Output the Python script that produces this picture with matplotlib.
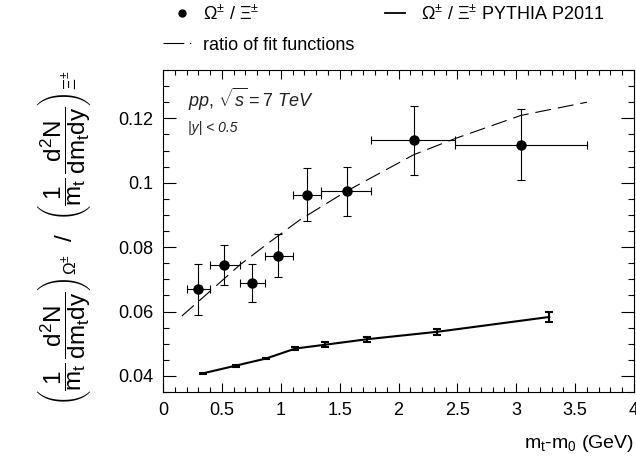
import matplotlib
matplotlib.use("Agg")
import matplotlib.pyplot as plt
from matplotlib.lines import Line2D

plt.rcParams['font.family'] = ['Liberation Sans', 'DejaVu Sans']
plt.rcParams['mathtext.fontset'] = 'custom'
plt.rcParams['mathtext.rm'] = 'Liberation Sans'
plt.rcParams['mathtext.it'] = 'Liberation Sans:italic'
plt.rcParams['mathtext.bf'] = 'Liberation Sans:bold'
plt.rcParams['mathtext.sf'] = 'Liberation Sans'
plt.rcParams['mathtext.default'] = 'regular'

# measured Omega/Xi ratio
x_data = [0.30, 0.52, 0.76, 0.98, 1.22, 1.56, 2.13, 3.04]
x_lo = [0.20, 0.40, 0.65, 0.87, 1.10, 1.34, 1.77, 2.48]
x_hi = [0.40, 0.65, 0.87, 1.10, 1.34, 1.77, 2.48, 3.60]
y_data = [0.0669, 0.0744, 0.0689, 0.0773, 0.0963, 0.0974, 0.1132, 0.1118]
y_err = [0.0079, 0.0063, 0.0058, 0.0067, 0.0082, 0.0076, 0.0107, 0.0111]

# PYTHIA P2011
py_x = [0.34, 0.62, 0.875, 1.125, 1.38, 1.735, 2.33, 3.28]
py_y = [0.0408, 0.0432, 0.0454, 0.0485, 0.0497, 0.0514, 0.0537, 0.0583]
py_err = [0.0002, 0.0003, 0.0003, 0.0006, 0.0007, 0.0008, 0.0009, 0.0015]

# ratio of fit functions
fit_x = [0.16, 0.40, 0.65, 0.90, 1.16, 1.56, 2.13, 2.48, 3.04, 3.60]
fit_y = [0.0586, 0.0663, 0.0744, 0.0814, 0.0884, 0.0974, 0.1087, 0.1137, 0.1209, 0.1250]

W, H = 636, 461
fig = plt.figure(figsize=(W / 100, H / 100), dpi=100)
ax = fig.add_axes([163 / W, 1 - 392 / H, (634 - 163) / W, (392 - 70) / H])

xerr = [[x - l for x, l in zip(x_data, x_lo)], [h - x for x, h in zip(x_data, x_hi)]]

lw_d = 0.8
ax.plot(fit_x, fit_y, color='black', lw=lw_d, linestyle=(0, (11.5 / lw_d, 5.0 / lw_d)), zorder=2)

ax.errorbar(py_x, py_y, yerr=py_err, color='black', lw=1.5, capsize=2.6, capthick=1.5,
            fmt='-', zorder=3)

ax.errorbar(x_data, y_data, xerr=xerr, yerr=y_err, fmt='o', color='black', ms=6.5,
            elinewidth=0.8, capsize=2.6, capthick=0.8, zorder=4)

ax.set_xlim(0, 4)
ax.set_ylim(0.0351, 0.1349)
ax.set_xticks([0, 0.5, 1, 1.5, 2, 2.5, 3, 3.5, 4])
ax.set_xticklabels(['0', '0.5', '1', '1.5', '2', '2.5', '3', '3.5', '4'])
ax.set_xticks([i * 0.1 for i in range(41)], minor=True)
ax.set_yticks([0.04, 0.06, 0.08, 0.10, 0.12])
ax.set_yticklabels(['0.04', '0.06', '0.08', '0.1', '0.12'])
ax.set_yticks([0.035 + i * 0.005 for i in range(21)], minor=True)

for s in ax.spines.values():
    s.set_linewidth(0.8)
ax.tick_params(which='both', direction='in', top=True, right=True, width=0.8, labelsize=13)
ax.tick_params(axis='x', which='major', length=6.7, pad=7)
ax.tick_params(axis='x', which='minor', length=3.4)
ax.tick_params(axis='y', which='major', length=9.4, pad=7)
ax.tick_params(axis='y', which='minor', length=4.3)

ax.set_xlabel(r'm$_{t}$-m$_{0}$ (GeV)', fontsize=14, loc='right', labelpad=10)
ax.set_ylabel(r'$\left(\dfrac{1}{m_{t}}\,\dfrac{d^{2}N}{dm_{t}dy}\right)_{\Omega^{\pm}}$  /  '
              r'$\left(\dfrac{1}{m_{t}}\,\dfrac{d^{2}N}{dm_{t}dy}\right)_{\Xi^{\pm}}$',
              fontsize=17.5, loc='top', labelpad=18)

ax.text(0.053, 0.907, r'$\mathit{pp},\,\sqrt{\mathit{s}} = \mathit{7\ TeV}$', transform=ax.transAxes,
        fontsize=13, ha='left', va='center', color='#222222')
ax.text(0.053, 0.82, '|y| < 0.5', transform=ax.transAxes, fontstyle='italic',
        fontsize=10, ha='left', va='center', color='#222222')

h1 = Line2D([], [], marker='o', color='black', ms=5, linestyle='none')
h2 = Line2D([], [], color='black', lw=1.3)
h3 = Line2D([], [], color='black', lw=0.8, linestyle=(0, (15 / 0.8, 4 / 0.8, 1.0 / 0.8, 4 / 0.8)))

leg_kw = dict(frameon=False, fontsize=13, borderpad=0, borderaxespad=0, loc='center left',
              bbox_transform=fig.transFigure)
l1 = ax.legend([h1], [r'Ω$^{\pm}$ / Ξ$^{\pm}$'], bbox_to_anchor=(172 / W, 1 - 14 / H),
               handlelength=1.1, handletextpad=0.6, **leg_kw)
ax.add_artist(l1)
l2 = ax.legend([h2], [r'Ω$^{\pm}$ / Ξ$^{\pm}$ PYTHIA P2011'], bbox_to_anchor=(385 / W, 1 - 14 / H),
               handlelength=1.1, handletextpad=0.9, **leg_kw)
ax.add_artist(l2)
l3 = ax.legend([h3], ['ratio of fit functions'], bbox_to_anchor=(163 / W, 1 - 45 / H),
               handlelength=1.6, handletextpad=0.6, **leg_kw)

fig.savefig('out.png', dpi=100)
